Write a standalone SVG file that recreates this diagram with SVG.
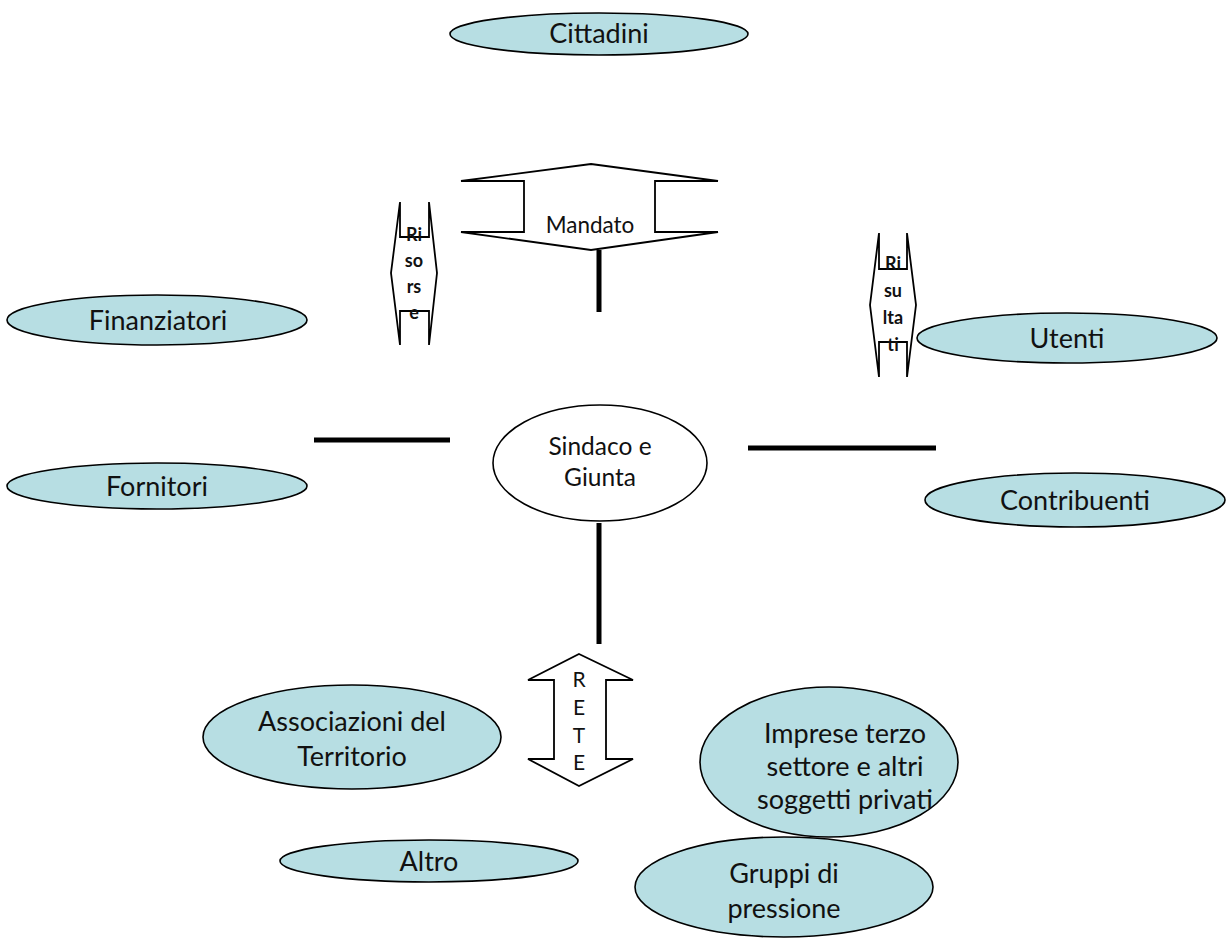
<svg xmlns="http://www.w3.org/2000/svg" width="1228" height="943" viewBox="0 0 1228 943">
<style>
  .el { fill: #b7dee3; stroke: #000; stroke-width: 1.6; }
  .wh { fill: #fff; stroke: #000; stroke-width: 1.6; }
  .shape { fill: #fff; stroke: #000; stroke-width: 1.8; stroke-linejoin: miter; }
  .t { font-family: Lato, "Open Sans", "Liberation Sans", sans-serif; font-size: 27px; fill: #111; text-anchor: middle; }
  .tm { font-family: Lato, "Open Sans", "Liberation Sans", sans-serif; font-size: 22.5px; fill: #111; text-anchor: middle; }
  .ts { font-family: Lato, "Open Sans", "Liberation Sans", sans-serif; font-size: 24.5px; fill: #111; text-anchor: middle; }
  .tr { font-family: Lato, "Open Sans", "Liberation Sans", sans-serif; font-size: 21px; fill: #111; text-anchor: middle; }
  .tb { font-family: Lato, "Open Sans", "Liberation Sans", sans-serif; font-size: 18px; font-weight: bold; fill: #111; text-anchor: middle; }
  .conn { stroke: #000; stroke-width: 5; fill: none; }
</style>
<rect width="1228" height="943" fill="#fff"/>

<g id="connectors">
  <line class="conn" x1="599" y1="250" x2="599" y2="312"/>
  <line class="conn" x1="599" y1="523" x2="599" y2="644"/>
  <line class="conn" x1="314" y1="440" x2="450" y2="440"/>
  <line class="conn" x1="748" y1="448" x2="936" y2="448"/>
</g>

<g id="cittadini">
  <ellipse class="el" cx="599" cy="34" rx="149" ry="21"/>
  <text class="t" x="599" y="43">Cittadini</text>
</g>

<g id="mandato">
  <polygon class="shape" points="591,164 718,181 655,181 655,232 718,232 591,250 461,232 524,232 524,181 461,181"/>
  <text class="tm" x="590" y="233">Mandato</text>
</g>

<g id="risorse">
  <polygon class="shape" points="400,202 400,237 429,237 429,202 437,273 429,345 429,311 400,311 400,345 391,273"/>
  <text class="tb" x="414" y="241">Ri</text>
  <text class="tb" x="414" y="267">so</text>
  <text class="tb" x="414" y="293">rs</text>
  <text class="tb" x="414" y="319">e</text>
</g>

<g id="risultati">
  <polygon class="shape" points="879,233 879,269 907,269 907,233 916,305 907,377 907,342 879,342 879,377 870,305"/>
  <text class="tb" x="893" y="270">Ri</text>
  <text class="tb" x="893" y="297">su</text>
  <text class="tb" x="893" y="324">lta</text>
  <text class="tb" x="893" y="351">ti</text>
</g>

<g id="finanziatori">
  <ellipse class="el" cx="157" cy="320" rx="150" ry="25"/>
  <text class="t" x="158" y="330">Finanziatori</text>
</g>

<g id="fornitori">
  <ellipse class="el" cx="157" cy="486" rx="150" ry="23"/>
  <text class="t" x="157" y="496">Fornitori</text>
</g>

<g id="utenti">
  <ellipse class="el" cx="1067" cy="338" rx="150" ry="25"/>
  <text class="t" x="1067" y="348">Utenti</text>
</g>

<g id="contribuenti">
  <ellipse class="el" cx="1075" cy="500" rx="150" ry="27"/>
  <text class="t" x="1075" y="510">Contribuenti</text>
</g>

<g id="sindaco">
  <ellipse class="wh" cx="600" cy="463" rx="107" ry="58"/>
  <text class="ts" x="600" y="455">Sindaco e</text>
  <text class="ts" x="600" y="486">Giunta</text>
</g>

<g id="rete">
  <polygon class="shape" points="579,654 633,680 606,680 606,759 633,759 579,786 528,759 554,759 554,680 528,680"/>
  <text class="tr" x="579" y="687">R</text>
  <text class="tr" x="579" y="715">E</text>
  <text class="tr" x="579" y="743">T</text>
  <text class="tr" x="579" y="770">E</text>
</g>

<g id="associazioni">
  <ellipse class="el" cx="352" cy="737" rx="149" ry="52"/>
  <text class="t" x="352" y="731">Associazioni del</text>
  <text class="t" x="352" y="766">Territorio</text>
</g>

<g id="imprese">
  <ellipse class="el" cx="829" cy="762" rx="129" ry="75"/>
  <text class="t" x="845" y="743">Imprese terzo</text>
  <text class="t" x="845" y="776">settore e altri</text>
  <text class="t" x="845" y="809">soggetti privati</text>
</g>

<g id="altro">
  <ellipse class="el" cx="429" cy="861" rx="149" ry="21"/>
  <text class="t" x="429" y="871">Altro</text>
</g>

<g id="gruppi">
  <ellipse class="el" cx="784" cy="887" rx="149" ry="50"/>
  <text class="t" x="784" y="883">Gruppi di</text>
  <text class="t" x="784" y="918">pressione</text>
</g>
</svg>
